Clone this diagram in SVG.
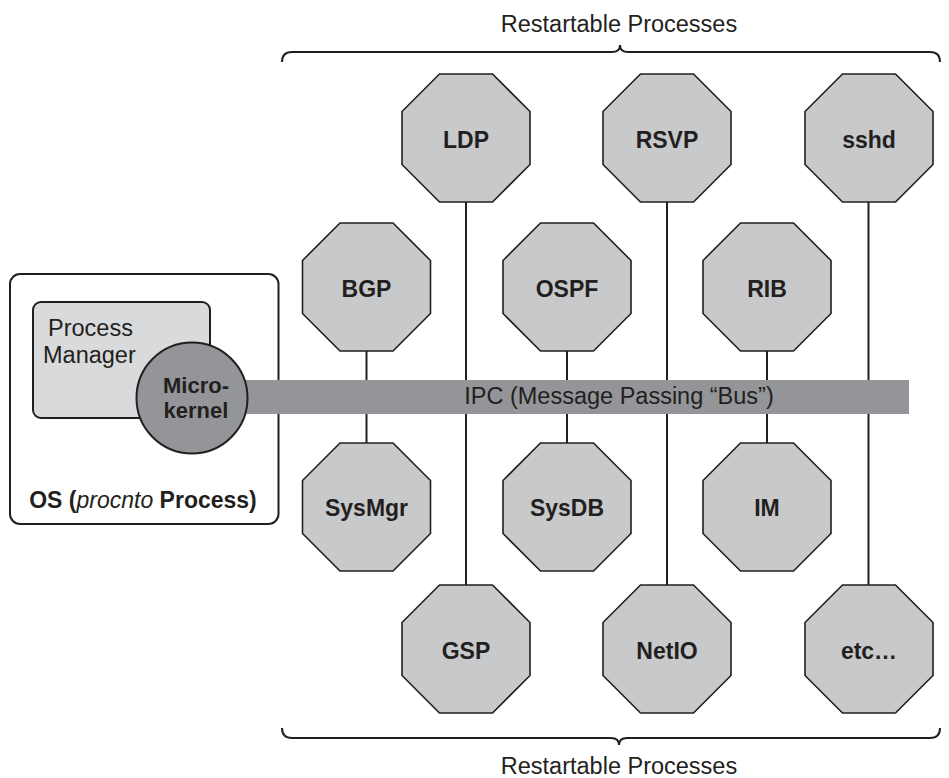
<svg xmlns="http://www.w3.org/2000/svg" xmlns:xlink="http://www.w3.org/1999/xlink" width="949" height="778" viewBox="0 0 949 778">
<style>
  text { font-family: "Liberation Sans", Arial, Helvetica, sans-serif; fill: #231f20; }
  .lbl { font-size: 23px; font-weight: bold; text-anchor: middle; }
  .reg { font-size: 23.5px; }
  .oct { fill: #c8c9cb; stroke: #231f20; stroke-width: 1.6; }
  .conn { stroke: #231f20; stroke-width: 2; fill: none; }
  .brace { stroke: #231f20; stroke-width: 2; fill: none; }
</style>
<defs>
  <polygon id="oct" class="oct" points="-26.5,-64 26.5,-64 64,-26.5 64,26.5 26.5,64 -26.5,64 -64,26.5 -64,-26.5"/>
</defs>
<rect width="949" height="778" fill="#ffffff"/>

<g id="braces">
  <path class="brace" d="M282,62 Q282,52 292,52 L612,52 Q620,52 620,45 Q620,52 628,52 L930,52 Q940,52 940,62"/>
  <text class="reg" x="619" y="32" text-anchor="middle">Restartable Processes</text>
  <path class="brace" d="M282,728 Q282,738 292,738 L611,738 Q619,738 619,745 Q619,738 627,738 L930,738 Q940,738 940,728"/>
  <text class="reg" x="619" y="774" text-anchor="middle">Restartable Processes</text>
</g>

<g id="connectors">
  <line class="conn" x1="466" y1="202" x2="466" y2="585"/>
  <line class="conn" x1="667" y1="202" x2="667" y2="585"/>
  <line class="conn" x1="868.5" y1="202" x2="868.5" y2="585"/>
  <line class="conn" x1="366.5" y1="351" x2="366.5" y2="443"/>
  <line class="conn" x1="567" y1="351" x2="567" y2="443"/>
  <line class="conn" x1="767" y1="351" x2="767" y2="443"/>
</g>

<g id="node-ldp"><use xlink:href="#oct" x="466" y="138"/><text class="lbl" x="466" y="148">LDP</text></g>
<g id="node-rsvp"><use xlink:href="#oct" x="667" y="138"/><text class="lbl" x="667" y="148">RSVP</text></g>
<g id="node-sshd"><use xlink:href="#oct" x="869" y="138"/><text class="lbl" x="869" y="148">sshd</text></g>

<g id="node-bgp"><use xlink:href="#oct" x="366.5" y="287"/><text class="lbl" x="366.5" y="297">BGP</text></g>
<g id="node-ospf"><use xlink:href="#oct" x="567" y="287"/><text class="lbl" x="567" y="297">OSPF</text></g>
<g id="node-rib"><use xlink:href="#oct" x="767" y="287"/><text class="lbl" x="767" y="297">RIB</text></g>

<g id="node-sysmgr"><use xlink:href="#oct" x="366.5" y="507"/><text class="lbl" x="366.5" y="516">SysMgr</text></g>
<g id="node-sysdb"><use xlink:href="#oct" x="567" y="507"/><text class="lbl" x="567" y="516">SysDB</text></g>
<g id="node-im"><use xlink:href="#oct" x="767" y="507"/><text class="lbl" x="767" y="516">IM</text></g>

<g id="node-gsp"><use xlink:href="#oct" x="466" y="649"/><text class="lbl" x="466" y="659">GSP</text></g>
<g id="node-netio"><use xlink:href="#oct" x="667" y="649"/><text class="lbl" x="667" y="659">NetIO</text></g>
<g id="node-etc"><use xlink:href="#oct" x="869" y="649"/><text class="lbl" x="869" y="659">etc…</text></g>

<g id="node-os">
  <rect x="10" y="274" width="268.5" height="250" rx="10" ry="10" fill="#ffffff" stroke="#231f20" stroke-width="2"/>
  <rect x="33" y="302" width="177" height="116" rx="8" ry="8" fill="#d9dadc" stroke="#231f20" stroke-width="2"/>
  <text class="reg" x="48" y="336">Process</text>
  <text class="reg" x="43" y="363">Manager</text>
  <text x="143" y="508" style="font-size:23px;font-weight:bold" text-anchor="middle">OS (<tspan style="font-style:italic;font-weight:normal">procnto</tspan> Process)</text>
</g>

<g id="ipc-bus">
  <rect x="200" y="380" width="709" height="34" fill="#939598"/>
  <text class="reg" x="619" y="404" text-anchor="middle">IPC (Message Passing “Bus”)</text>
</g>

<g id="node-microkernel">
  <circle cx="192" cy="398" r="55.5" fill="#939598" stroke="#231f20" stroke-width="2"/>
  <text x="196" y="393" style="font-size:22px;font-weight:bold" text-anchor="middle">Micro-</text>
  <text x="196" y="418" style="font-size:22px;font-weight:bold" text-anchor="middle">kernel</text>
</g>
</svg>
